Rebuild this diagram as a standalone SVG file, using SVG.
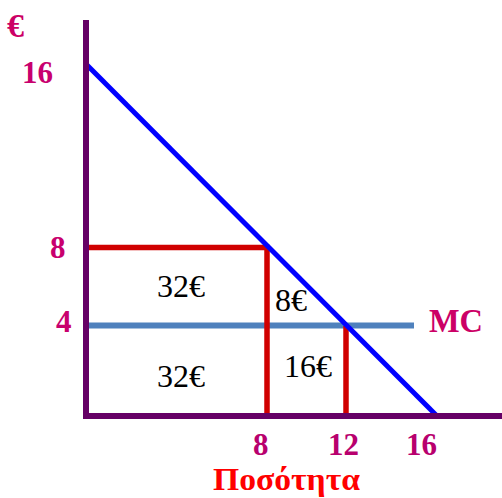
<svg xmlns="http://www.w3.org/2000/svg" width="502" height="498" viewBox="0 0 502 498">
<style>
.lbl{font-family:"Liberation Serif","Times New Roman",serif;font-weight:bold;fill:#C8006E;font-size:31px}
.val{font-family:"Liberation Serif","Times New Roman",serif;fill:#000;font-size:32px}
.title{font-family:"Liberation Serif","Times New Roman",serif;font-weight:bold;fill:#FF0000;font-size:31px}
.axis{stroke:#660066;stroke-width:6;fill:none}
.red{stroke:#D00000;stroke-width:5.5;fill:none}
.mc{stroke:#4F81BD;stroke-width:6;fill:none}
.demand{stroke:#0000FF;stroke-width:5;fill:none}
</style>
<rect width="502" height="498" fill="#fff"/>
<g id="connectors">
<line class="mc" x1="86" y1="325.5" x2="414" y2="325.5"/>
<polyline class="red" points="86,247.5 267,247.5 267,416"/>
<line class="red" x1="346" y1="326" x2="346" y2="416"/>
<line class="demand" x1="87" y1="65" x2="436" y2="415"/>
<line class="axis" x1="86" y1="20" x2="86" y2="419"/>
<line class="axis" x1="83" y1="416" x2="502" y2="416"/>
</g>
<g id="y-labels">
<text class="lbl" x="7" y="37" style="fill:#CC0066;font-size:34px">€</text>
<text class="lbl" x="22" y="83">16</text>
<text class="lbl" x="50" y="258">8</text>
<text class="lbl" x="56" y="332">4</text>
</g>
<g id="mc-label"><text class="lbl" x="429" y="332" style="fill:#CC0066;font-size:33px" textLength="54" lengthAdjust="spacingAndGlyphs">MC</text></g>
<g id="x-labels">
<text class="lbl" x="253" y="455" style="fill:#B8006E">8</text>
<text class="lbl" x="328" y="455" style="fill:#B8006E">12</text>
<text class="lbl" x="406" y="455" style="fill:#B8006E">16</text>
<text class="title" x="213" y="490" textLength="147" lengthAdjust="spacingAndGlyphs">Ποσότητα</text>
</g>
<g id="areas">
<text class="val" x="157" y="297">32€</text>
<text class="val" x="157" y="387">32€</text>
<text class="val" x="275" y="311">8€</text>
<text class="val" x="284" y="377">16€</text>
</g>
</svg>
